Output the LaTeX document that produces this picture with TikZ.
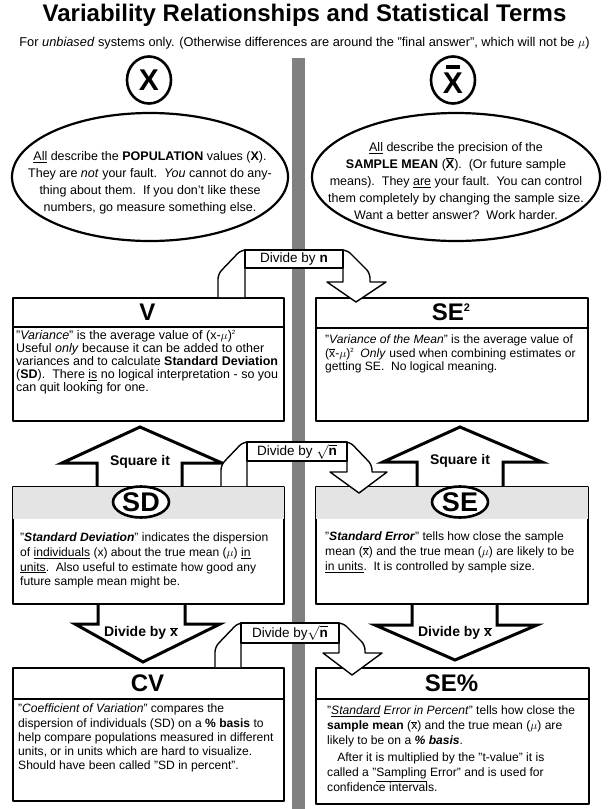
\documentclass[tikz,border=0pt]{standalone}
\usepackage{fontspec}
\setmainfont{Liberation Sans}
\usetikzlibrary{shapes.geometric}

\definecolor{barGray}{RGB}{128,128,128}
\definecolor{headGray}{RGB}{228,228,228}

\newcommand\xbar{$\overline{\mbox{x}}$}
\newcommand\Xbar{$\overline{\mbox{\bfseries X}}$}
\newcommand\bxbar{$\overline{\mbox{\bfseries x}}$}
\newcommand\sqrd{\raisebox{4.5pt}{\fontsize{6}{6}\selectfont 2}}
\newcommand\rootn{$\sqrt{\mbox{\bfseries n}}$}

\tikzset{
  termbox/.style={draw, line width=1.8pt, fill=white, anchor=north west, inner sep=0pt},
  divline/.style={line width=1.6pt},
  bodytext/.style={anchor=north west, inner sep=0pt, align=left, font=\fontsize{12.1}{#1}\selectfont},
  bodytext/.default=13,
  headtext/.style={font=\bfseries\fontsize{24}{24}\selectfont},
  marktext/.style={font=\bfseries\fontsize{27}{27}\selectfont},
  markell/.style={ellipse, draw, line width=2.6pt, fill=white, inner sep=0pt},
  bigell/.style={ellipse, draw, line width=2.2pt, inner sep=0pt},
  ellipsetext/.style={align=center, inner sep=0pt, font=\fontsize{12.5}{17}\selectfont},
  bigarrow/.style={draw, line width=3pt, fill=white, line join=miter},
  arrowtext/.style={font=\bfseries\fontsize{14}{14}\selectfont},
  bentarrow/.style={draw, line width=1.4pt, fill=white},
  bentlabel/.style={draw, line width=1.4pt, fill=white, inner sep=0pt, font=\fontsize{13.5}{13.5}\selectfont},
}

\begin{document}
\begin{tikzpicture}[x=1pt, y=-1pt, line join=round]
\useasboundingbox (0,0) rectangle (609,809);

% centre divider
\fill[barGray] (292,58) rectangle (305,809);

% headings
\node[font=\bfseries\fontsize{24}{24}\selectfont] (title) at (304.5,15) {Variability Relationships and Statistical Terms};
\node[font=\fontsize{12.8}{12.8}\selectfont] (subtitle) at (304.5,43) {For \textit{unbiased} systems only. (Otherwise differences are around the "final answer", which will not be $\mu$)};

% population / sample mean marks
\node[markell, minimum width=44, minimum height=47] (xmark) at (149,80) {};
\node[font=\bfseries\fontsize{30}{30}\selectfont] (xletter) at (xmark) {X};
\node[markell, minimum width=44, minimum height=47] (xbarmark) at (453,80) {};
\node[font=\bfseries\fontsize{30}{30}\selectfont] (xbarletter) at ([yshift=-3pt]xbarmark) {X};
\draw[line width=3.2pt] ([xshift=-7pt,yshift=13pt]xbarmark.center) -- ([xshift=7pt,yshift=13pt]xbarmark.center);

% explanation ellipses
\node[bigell, minimum width=276, minimum height=128] (popell) at (150,177) {};
\node[ellipsetext] (poptext) at (150,183) {\underline{All} describe the \textbf{POPULATION} values (\textbf{X}).\\
They are \textit{not} your fault.\ \ \textit{You} cannot do any-\\
thing about them.\ \ If you don't like these\\
numbers, go measure something else.};
\node[bigell, minimum width=288, minimum height=128] (sampell) at (456,177) {};
\node[ellipsetext] (samptext) at (456,181) {\underline{All} describe the precision of the\\
\textbf{SAMPLE MEAN} (\Xbar).\ \ (Or future sample\\
means).\ \ They \underline{are} your fault.\ \ You can control\\
them completely by changing the sample size.\\
Want a better answer?\ \ Work harder.};

% square it
\draw[bigarrow] (97,486) -- (97,463) -- (62,463) -- (140,427) -- (222,463) -- (182,463) -- (182,486);
\node[arrowtext] (sqleft) at (140,462) {Square it};
\draw[bigarrow] (417,486) -- (417,462) -- (383,462) -- (460,427) -- (542,462) -- (503,462) -- (503,486);
\node[arrowtext] (sqright) at (460,461) {Square it};

% divide by mean
\draw[bigarrow] (98,603) -- (98,624) -- (75,624) -- (143,662) -- (220,624) -- (185,624) -- (185,603);
\node[arrowtext] (dxleft) at (141,633) {Divide by \bxbar};
\draw[bigarrow] (412,603) -- (412,625) -- (375,625) -- (455,660) -- (537,625) -- (497,625) -- (497,603);
\node[arrowtext] (dxright) at (455,633) {Divide by \bxbar};

% V
\node[termbox, minimum width=271, minimum height=123] (vbox) at (12,297) {};
\draw[divline] ([yshift=-30pt]vbox.north west) -- ([yshift=-30pt]vbox.north east);
\node[headtext] (vhead) at (147.5,312) {V};
\node[bodytext, font=\fontsize{12.5}{13}\selectfont] (vbody) at (16,330) {"\textit{Variance}" is the average value of (x-$\mu$)\sqrd\\
Useful \textit{only} because it can be added to other\\
variances and to calculate \textbf{Standard Deviation}\\
(\textbf{SD}).\ \ There \underline{is} no logical interpretation - so you\\
can quit looking for one.};

% SE squared
\node[termbox, minimum width=272, minimum height=123] (sesqbox) at (315,297) {};
\draw[divline] ([yshift=-31pt]sesqbox.north west) -- ([yshift=-31pt]sesqbox.north east);
\node[headtext] (sesqhead) at (451,312.5) {SE\raisebox{9pt}{\fontsize{11}{11}\selectfont 2}};
\node[bodytext=13.3] (sesqbody) at (325,335) {"\textit{Variance of the Mean}" is the average value of\\
(\xbar-$\mu$)\sqrd\ \ \textit{Only} used when combining estimates or\\
getting SE.\ \ No logical meaning.};

% SD
\node[termbox, minimum width=271, minimum height=117] (sdbox) at (12,486) {};
\fill[headGray] ([shift={(0.9pt,-0.9pt)}]sdbox.north west) rectangle ([shift={(-0.9pt,-33pt)}]sdbox.north east);
\node[markell, minimum width=56, minimum height=31] (sdmark) at (141,502) {};
\node[marktext] (sdhead) at (sdmark) {SD};
\node[bodytext=14.6] (sdbody) at (20,533) {"\textbf{\textit{Standard Deviation}}" indicates the dispersion\\
of \underline{individuals} (x) about the true mean ($\mu$) \underline{in}\\
\underline{units}.\ \ Also useful to estimate how good any\\
future sample mean might be.};

% SE
\node[termbox, minimum width=272, minimum height=117] (sebox) at (315,486) {};
\fill[headGray] ([shift={(0.9pt,-0.9pt)}]sebox.north west) rectangle ([shift={(-0.9pt,-33pt)}]sebox.north east);
\node[markell, minimum width=56, minimum height=31] (semark) at (460,502) {};
\node[marktext] (sehead) at (semark) {SE};
\node[bodytext=15] (sebody) at (325,532) {"\textbf{\textit{Standard Error}}" tells how close the sample\\
mean (\xbar) and the true mean ($\mu$) are likely to be\\
\underline{in units}.\ \ It is controlled by sample size.};

% CV
\node[termbox, minimum width=271, minimum height=133] (cvbox) at (12,667) {};
\draw[divline] ([yshift=-32pt]cvbox.north west) -- ([yshift=-32pt]cvbox.north east);
\node[headtext] (cvhead) at (147.5,683) {CV};
\node[bodytext=14.2] (cvbody) at (18,704) {"\textit{Coefficient of Variation}" compares the\\
dispersion of individuals (SD) on a \textbf{\% basis} to\\
help compare populations measured in different\\
units, or in units which are hard to visualize.\\
Should have been called "SD in percent".};

% SE percent
\node[termbox, minimum width=273, minimum height=136] (sepbox) at (315,667) {};
\draw[divline] ([yshift=-32pt]sepbox.north west) -- ([yshift=-32pt]sepbox.north east);
\node[headtext] (sephead) at (451.5,683) {SE\%};
\node[bodytext=15] (sepbody) at (327,706) {"\textit{\underline{Standard} Error in Percent}" tells how close the\\
\textbf{sample mean} (\xbar) and the true mean ($\mu$) are\\
likely to be on a \textbf{\textit{\% basis}}.\\[2pt]
\ \ \ After it is multiplied by the "t-value" it is\\
called a "\underline{Sampling} Error" and is used for\\
confidence intervals.};

% divide by n
\draw[bentarrow] (218,297) [rounded corners=5pt] -- (218,274) -- (241,250) -- (347,250) -- (370,273) [sharp corners] -- (370,282) -- (386,282) -- (356,302) -- (327,282) -- (343,282) -- (343,268) -- (245,268) -- (245,297);
\node[bentlabel, minimum width=98, minimum height=18] (divn) at (294,259) {Divide by \textbf{n}};

% divide by root n, middle
\draw[bentarrow] (221,486) [rounded corners=5pt] -- (221,465) -- (243,442) -- (350,442) -- (372,465) [sharp corners] -- (372,472) -- (387,472) -- (359,493) -- (330,472) -- (347,472) -- (347,461) -- (247,461) -- (247,486);
\node[bentlabel, minimum width=100, minimum height=19] (divrootmid) at (297,451.5) {Divide by \rootn};

% divide by root n, bottom
\draw[bentarrow] (215,667) [rounded corners=5pt] -- (215,647) -- (238,623) -- (343,623) -- (365,645) [sharp corners] -- (365,653) -- (382,653) -- (352,675) -- (323,653) -- (339,653) -- (339,643) -- (241,643) -- (241,667);
\node[bentlabel, minimum width=98, minimum height=20] (divrootlow) at (290,633) {Divide by\rootn};
\end{tikzpicture}
\end{document}
